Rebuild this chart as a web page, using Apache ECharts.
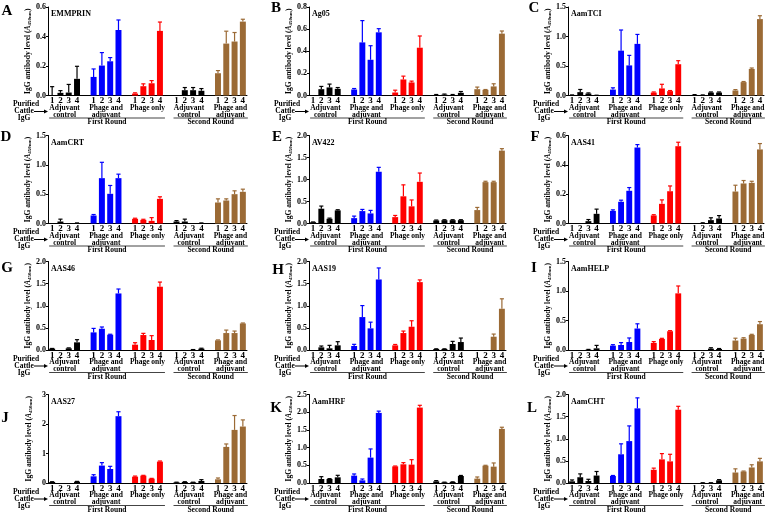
<!DOCTYPE html>
<html>
<head>
<meta charset="utf-8">
<script src="https://cdn.jsdelivr.net/npm/echarts@6/dist/echarts.min.js"></script>
<style>html,body{margin:0;padding:0;background:#fff}#main{width:769px;height:516px}</style>
</head>
<body>
<div id="main"></div>
<script>
// 面板与数据
const panelLetters = ['A', 'B', 'C', 'D', 'E', 'F', 'G', 'H', 'I', 'J', 'K', 'L'];
const antigens = ['EMMPRIN', 'Ag05', 'AamTCI', 'AamCRT', 'AV422', 'AAS41', 'AAS46', 'AAS19', 'AamHELP', 'AAS27', 'AamHRF', 'AamCHT'];
const yMax = [0.6, 0.8, 1.5, 1.5, 2.0, 0.6, 2.0, 2.0, 1.5, 3, 2.5, 2.0];
const yStep = [0.2, 0.2, 0.5, 0.5, 0.5, 0.2, 0.5, 0.5, 0.5, 1, 0.5, 0.5];
const yDecimals = [1, 1, 1, 1, 1, 1, 1, 1, 1, 0, 1, 1];
const ticks = ['1', '2', '3', '4'];
const groupNames = [['Adjuvant', 'control'], ['Phage and', 'adjuvant'], ['Phage only'], ['Adjuvant', 'control'], ['Phage and', 'adjuvant']];
const roundNames = ['First Round', 'Second Round'];
const groupColors = ['#000000', '#0000ff', '#ff0000', '#000000', '#9b6a35'];

const meanA = [0, 0.018, 0.02, 0.113, 0.126, 0.203, 0.232, 0.444, 0.013, 0.063, 0.083, 0.438, 0, 0.036, 0.036, 0.032, 0.151, 0.352, 0.366, 0.501];
const errA = [0.06, 0.015, 0.055, 0.085, 0.054, 0.088, 0.025, 0.068, 0.005, 0.016, 0.018, 0.06, 0, 0.018, 0.018, 0.015, 0.018, 0.084, 0.061, 0.016];
const meanB = [0, 0.057, 0.073, 0.06, 0.054, 0.48, 0.323, 0.571, 0.027, 0.145, 0.118, 0.432, 0.005, 0.008, 0.005, 0.024, 0.057, 0.051, 0.082, 0.559];
const errB = [0, 0.025, 0.03, 0.012, 0.009, 0.197, 0.127, 0.033, 0.021, 0.03, 0.012, 0.106, 0.004, 0.005, 0.004, 0.012, 0.019, 0.003, 0.024, 0.024];
const meanC = [0.005, 0.057, 0.034, 0, 0.1, 0.76, 0.51, 0.875, 0.05, 0.12, 0.074, 0.53, 0.01, 0.005, 0.05, 0.05, 0.085, 0.227, 0.45, 1.295];
const errC = [0.005, 0.045, 0.01, 0.005, 0.03, 0.35, 0.17, 0.16, 0.01, 0.07, 0.01, 0.06, 0.005, 0.005, 0.01, 0.01, 0.015, 0.01, 0.016, 0.057];
const meanD = [0, 0.034, 0, 0.005, 0.136, 0.773, 0.506, 0.773, 0.08, 0.062, 0.045, 0.42, 0.034, 0.034, 0, 0.005, 0.358, 0.392, 0.5, 0.54];
const errD = [0, 0.04, 0, 0.005, 0.017, 0.27, 0.142, 0.068, 0.01, 0.01, 0.055, 0.035, 0.015, 0.04, 0, 0.005, 0.062, 0.028, 0.057, 0.045];
const meanE = [0.03, 0.336, 0.107, 0.298, 0.122, 0.282, 0.229, 1.176, 0.145, 0.618, 0.39, 0.947, 0.069, 0.076, 0.076, 0.076, 0.305, 0.94, 0.94, 1.656];
const errE = [0.005, 0.06, 0.015, 0.015, 0.046, 0.038, 0.069, 0.1, 0.038, 0.26, 0.145, 0.2, 0.01, 0.01, 0.01, 0.01, 0.06, 0.02, 0.02, 0.045];
const meanF = [0, 0, 0.016, 0.066, 0.086, 0.148, 0.223, 0.518, 0.055, 0.134, 0.22, 0.527, 0, 0.003, 0.023, 0.034, 0.218, 0.273, 0.277, 0.505];
const errF = [0, 0, 0.011, 0.032, 0.007, 0.011, 0.022, 0.02, 0.005, 0.027, 0.036, 0.027, 0, 0.002, 0.016, 0.02, 0.043, 0.02, 0.011, 0.04];
const meanG = [0.03, 0, 0.038, 0.173, 0.398, 0.48, 0.346, 1.278, 0.12, 0.338, 0.226, 1.43, 0, 0, 0.005, 0.03, 0.218, 0.383, 0.383, 0.6];
const errG = [0.005, 0, 0.01, 0.06, 0.09, 0.04, 0.01, 0.1, 0.045, 0.038, 0.098, 0.105, 0, 0, 0.005, 0.01, 0.01, 0.067, 0.045, 0.01];
const meanH = [0, 0.06, 0.038, 0.105, 0.09, 0.744, 0.489, 1.594, 0.105, 0.383, 0.526, 1.534, 0.022, 0.022, 0.135, 0.18, 0, 0, 0.3, 0.932];
const errH = [0, 0.03, 0.067, 0.083, 0.038, 0.26, 0.14, 0.26, 0.02, 0.045, 0.135, 0.05, 0.005, 0.005, 0.06, 0.09, 0, 0, 0.06, 0.225];
const meanI = [0, 0, 0.005, 0.028, 0.074, 0.085, 0.136, 0.364, 0.12, 0.188, 0.318, 0.96, 0, 0, 0.023, 0.017, 0.16, 0.193, 0.256, 0.437];
const errI = [0, 0, 0.005, 0.05, 0.016, 0.04, 0.068, 0.08, 0.022, 0.01, 0.01, 0.125, 0, 0, 0.015, 0.008, 0.04, 0.015, 0.01, 0.045];
const meanJ = [0.034, 0, 0, 0.045, 0.226, 0.59, 0.475, 2.265, 0.215, 0.25, 0.147, 0.725, 0.022, 0.034, 0.022, 0.068, 0.125, 1.223, 1.8, 1.914];
const errJ = [0.01, 0, 0, 0.01, 0.055, 0.1, 0.09, 0.15, 0.02, 0.01, 0.01, 0.02, 0.005, 0.01, 0.005, 0.045, 0.045, 0.1, 0.487, 0.225];
const meanK = [0, 0.113, 0.113, 0.16, 0.207, 0.075, 0.717, 1.98, 0.47, 0.528, 0.519, 2.13, 0.047, 0.019, 0.028, 0.198, 0.123, 0.49, 0.462, 1.528];
const errK = [0, 0.066, 0.01, 0.057, 0.048, 0.038, 0.245, 0.05, 0.01, 0.047, 0.14, 0.065, 0.02, 0.005, 0.005, 0.015, 0.047, 0.01, 0.104, 0.047];
const meanL = [0.038, 0.13, 0.046, 0.168, 0.16, 0.649, 0.947, 1.687, 0.298, 0.534, 0.489, 1.656, 0, 0.003, 0.003, 0.061, 0.237, 0.26, 0.351, 0.489];
const errL = [0.031, 0.076, 0.038, 0.092, 0.01, 0.236, 0.343, 0.237, 0.038, 0.13, 0.16, 0.077, 0, 0.003, 0.003, 0.015, 0.083, 0.01, 0.061, 0.068];

const means = [meanA, meanB, meanC, meanD, meanE, meanF, meanG, meanH, meanI, meanJ, meanK, meanL];
const errs = [errA, errB, errC, errD, errE, errF, errG, errH, errI, errJ, errK, errL];

// 版面位置
const colLeft = [48, 309, 568];
const colRight = [247, 506, 764];
const rowTop = [7, 135.5, 261.5, 394.5];
const rowBottom = [95.5, 223.5, 350, 483];
const letterPos = [[7, 11], [276, 8], [534, 8], [6, 137], [277, 137], [535, 137], [7, 268], [278, 270], [534, 268], [5, 418], [276, 408], [532, 408]];

const FONT = '"Liberation Serif", "Times New Roman", serif';

// 类别轴：每组4根柱，组间空一格
let categories = [];
let slotOf = [];
for (let g = 0; g < 5; g++) {
    for (let t = 0; t < 4; t++) {
        slotOf.push(categories.length);
        categories.push(ticks[t]);
    }
    if (g < 4) categories.push('');
}

let chart = echarts.init(document.getElementById('main'));

let grids = [], xAxes = [], yAxes = [], series = [];
for (let k = 0; k < 12; k++) {
    let c = k % 3, r = Math.floor(k / 3);
    grids.push({
        left: colLeft[c], top: rowTop[r],
        width: colRight[c] - colLeft[c], height: rowBottom[r] - rowTop[r]
    });
    xAxes.push({
        type: 'category', gridIndex: k, data: categories,
        axisLine: { lineStyle: { color: '#000', width: 1 } },
        axisTick: { alignWithLabel: true, length: 2, interval: (i, v) => v !== '', lineStyle: { color: '#000' } },
        axisLabel: { interval: 0, margin: 1, color: '#000', fontFamily: FONT, fontWeight: 'bold', fontSize: 9 }
    });
    yAxes.push({
        type: 'value', gridIndex: k, min: 0, max: yMax[k], interval: yStep[k],
        axisLine: { show: true, lineStyle: { color: '#000', width: 1 } },
        axisTick: { show: true, length: 2, lineStyle: { color: '#000' } },
        splitLine: { show: false },
        axisLabel: {
            margin: 2, color: '#000', fontFamily: FONT, fontWeight: 'bold', fontSize: 8,
            formatter: v => v.toFixed(yDecimals[k])
        },
        name: '{n|IgG antibody level (}{i|A}{s|450nm}{n|)}',
        nameLocation: 'middle', nameGap: 15, nameRotate: 90,
        nameTextStyle: {
            rich: {
                n: { fontFamily: FONT, fontWeight: 'bold', fontSize: 7.5, color: '#000' },
                i: { fontFamily: FONT, fontWeight: 'bold', fontStyle: 'italic', fontSize: 7.5, color: '#000' },
                s: { fontFamily: FONT, fontWeight: 'bold', fontSize: 5, color: '#000', verticalAlign: 'bottom', padding: [3, 0, 0, 0] }
            }
        }
    });

    let barData = categories.map(() => '-');
    let errData = [];
    means[k].forEach((m, i) => {
        let g = Math.floor(i / 4);
        barData[slotOf[i]] = { value: m, itemStyle: { color: groupColors[g] } };
        if (errs[k][i] > 0) errData.push([slotOf[i], m, errs[k][i], g]);
    });
    series.push({
        type: 'bar', xAxisIndex: k, yAxisIndex: k, data: barData,
        barWidth: '72%', silent: true
    });
    series.push({
        type: 'custom', xAxisIndex: k, yAxisIndex: k, data: errData, z: 3, silent: true,
        renderItem: function (params, api) {
            let x = api.value(0), m = api.value(1), e = api.value(2);
            let p0 = api.coord([x, m]), p1 = api.coord([x, m + e]);
            let w = api.size([1, 0])[0] * 0.5;
            let col = groupColors[api.value(3)];
            return {
                type: 'group', children: [
                    { type: 'line', shape: { x1: p0[0], y1: p0[1], x2: p1[0], y2: p1[1] }, style: { stroke: col, lineWidth: 1.2 } },
                    { type: 'line', shape: { x1: p1[0] - w / 2, y1: p1[1], x2: p1[0] + w / 2, y2: p1[1] }, style: { stroke: col, lineWidth: 1.2 } }
                ]
            };
        }
    });
}

chart.setOption({
    animation: false,
    grid: grids, xAxis: xAxes, yAxis: yAxes, series: series
});

// 面板字母、抗原名、分组标签
function txt(text, x, y, size, align, extra) {
    return Object.assign({
        type: 'text', x: x, y: y, silent: true,
        style: { text: text, font: 'bold ' + size + 'px ' + FONT, fill: '#000', align: align || 'center', verticalAlign: 'middle' }
    }, extra || {});
}
let graphics = [];
for (let k = 0; k < 12; k++) {
    let c = k % 3, r = Math.floor(k / 3);
    let y0 = chart.convertToPixel({ yAxisIndex: k }, 0);
    let axisX = colLeft[c];
    graphics.push(txt(panelLetters[k], letterPos[k][0], letterPos[k][1], 15, 'center'));
    graphics.push(txt(antigens[k], axisX + 3, rowTop[r] + 7, 8, 'left'));
    // Purified Cattle IgG →
    graphics.push(txt('Purified', axisX - 22, y0 + 9, 7.5, 'center'));
    graphics.push(txt('Cattle', axisX - 24, y0 + 16, 7.5, 'center'));
    graphics.push(txt('IgG', axisX - 24, y0 + 23, 7.5, 'center'));
    graphics.push({ type: 'line', silent: true, shape: { x1: axisX - 14, y1: y0 + 16, x2: axisX - 2, y2: y0 + 16 }, style: { stroke: '#000', lineWidth: 1 } });
    graphics.push({ type: 'polygon', silent: true, shape: { points: [[axisX, y0 + 16], [axisX - 4, y0 + 14], [axisX - 4, y0 + 18]] }, style: { fill: '#000' } });

    for (let g = 0; g < 5; g++) {
        let xa = chart.convertToPixel({ xAxisIndex: k }, slotOf[g * 4]);
        let xb = chart.convertToPixel({ xAxisIndex: k }, slotOf[g * 4 + 3]);
        let xm = (xa + xb) / 2;
        groupNames[g].forEach((line, li) => {
            graphics.push(txt(line, xm, y0 + 12.5 + li * 7, 7.5, 'center'));
        });
    }
    // 轮次下划线
    [[0, 2], [3, 4]].forEach((span, ri) => {
        let xa = chart.convertToPixel({ xAxisIndex: k }, slotOf[span[0] * 4]) - 3;
        let xb = chart.convertToPixel({ xAxisIndex: k }, slotOf[span[1] * 4 + 3]) + 5;
        graphics.push({ type: 'line', silent: true, shape: { x1: xa, y1: y0 + 22.5, x2: xb, y2: y0 + 22.5 }, style: { stroke: '#444', lineWidth: 1 } });
        graphics.push(txt(roundNames[ri], (xa + xb) / 2, y0 + 27, 7.5, 'center'));
    });
}
chart.setOption({ graphic: graphics });
</script>
</body>
</html>
